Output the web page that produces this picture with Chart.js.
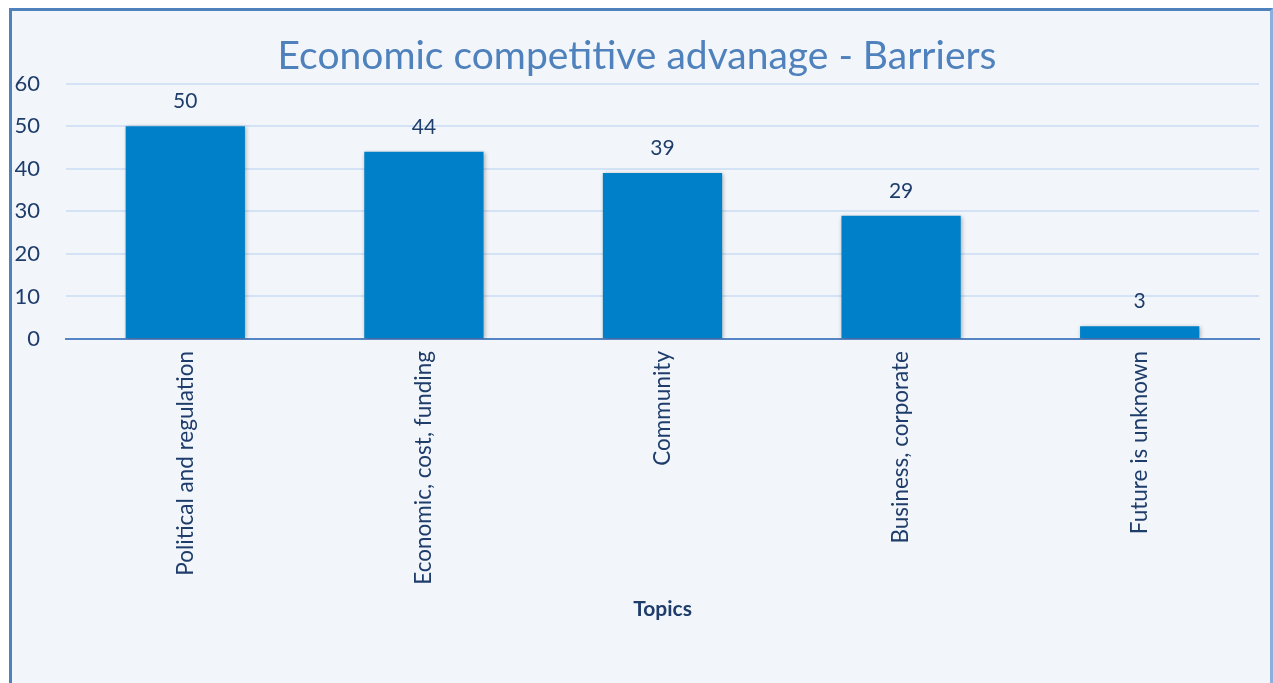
<!DOCTYPE html>
<html>
<head>
<meta charset="utf-8">
<title>Economic competitive advanage - Barriers</title>
<script src="https://cdn.jsdelivr.net/npm/chart.js@4"></script>
<style>
  html, body { margin: 0; padding: 0; background: #ffffff; overflow: hidden; }
  #frame {
    position: absolute;
    left: 9px; top: 8px;
    width: 1264px; height: 700px;
    box-sizing: border-box;
    border: 3px solid #4f81bd;
    border-right-color: #8eaedb;
    background: #f2f6fb;
  }
  #box { position: absolute; left: 0; top: 0; width: 1258px; height: 672px; }
</style>
</head>
<body>
<div id="frame">
  <div id="box"><canvas id="barChart"></canvas></div>
</div>
<script>
const topics = ['Political and regulation', 'Economic, cost, funding', 'Community', 'Business, corporate', 'Future is unknown'];
const counts = [50, 44, 39, 29, 3];
const yTicks = [0, 10, 20, 30, 40, 50, 60];

const textBlue = '#1f3d6b';
const fontName = 'Lato, "Open Sans", sans-serif';

// soft shadow under the bars, then each bar's value above it
const barExtras = {
    id: 'barExtras',
    beforeDatasetsDraw(chart) {
        const ctx = chart.ctx;
        ctx.save();
        ctx.shadowColor = 'rgba(0, 0, 0, 0.3)';
        ctx.shadowBlur = 4;
        ctx.shadowOffsetX = 1;
        ctx.shadowOffsetY = 1;
    },
    afterDatasetsDraw(chart) {
        const ctx = chart.ctx;
        ctx.restore();
        const meta = chart.getDatasetMeta(0);
        ctx.save();
        ctx.font = '21px ' + fontName;
        ctx.fillStyle = textBlue;
        ctx.textAlign = 'center';
        ctx.textBaseline = 'alphabetic';
        meta.data.forEach((bar, i) => {
            ctx.fillText(String(counts[i]), bar.x, bar.y - 18);
        });
        ctx.restore();
    }
};

const myChart = new Chart(document.getElementById('barChart'), {
    type: 'bar',
    data: {
        labels: topics,
        datasets: [{
            data: counts,
            backgroundColor: '#0080c8',
            borderWidth: 0,
            barPercentage: 0.5,
            categoryPercentage: 1.0
        }]
    },
    options: {
        responsive: true,
        maintainAspectRatio: false,
        animation: false,
        layout: {
            padding: { left: 3, right: 11, top: 0, bottom: 61 }
        },
        scales: {
            x: {
                grid: { display: false },
                border: { color: '#5585c4', width: 2 },
                ticks: {
                    minRotation: 90,
                    maxRotation: 90,
                    padding: 4,
                    color: textBlue,
                    font: { family: fontName, size: 22.5 }
                },
                title: {
                    display: true,
                    text: 'Topics',
                    color: textBlue,
                    font: { family: fontName, size: 21, weight: 'bold' },
                    padding: { top: 8, bottom: 0 }
                }
            },
            y: {
                min: 0,
                max: 60,
                afterBuildTicks(scale) {
                    scale.ticks = yTicks.map(v => ({ value: v }));
                },
                afterFit(scale) {
                    scale.width = 51;
                },
                grid: { color: '#d3e2f4', lineWidth: 2, drawTicks: false },
                border: { display: false },
                ticks: {
                    padding: 26,
                    color: textBlue,
                    font: { family: fontName, size: 22 }
                }
            }
        },
        plugins: {
            legend: { display: false },
            tooltip: { enabled: false },
            title: {
                display: true,
                text: 'Economic competitive advanage - Barriers',
                color: '#4f81bd',
                font: { family: fontName, size: 39, weight: 'normal' },
                padding: { top: 22, bottom: 4 }
            }
        }
    },
    plugins: [barExtras]
});
</script>
</body>
</html>
